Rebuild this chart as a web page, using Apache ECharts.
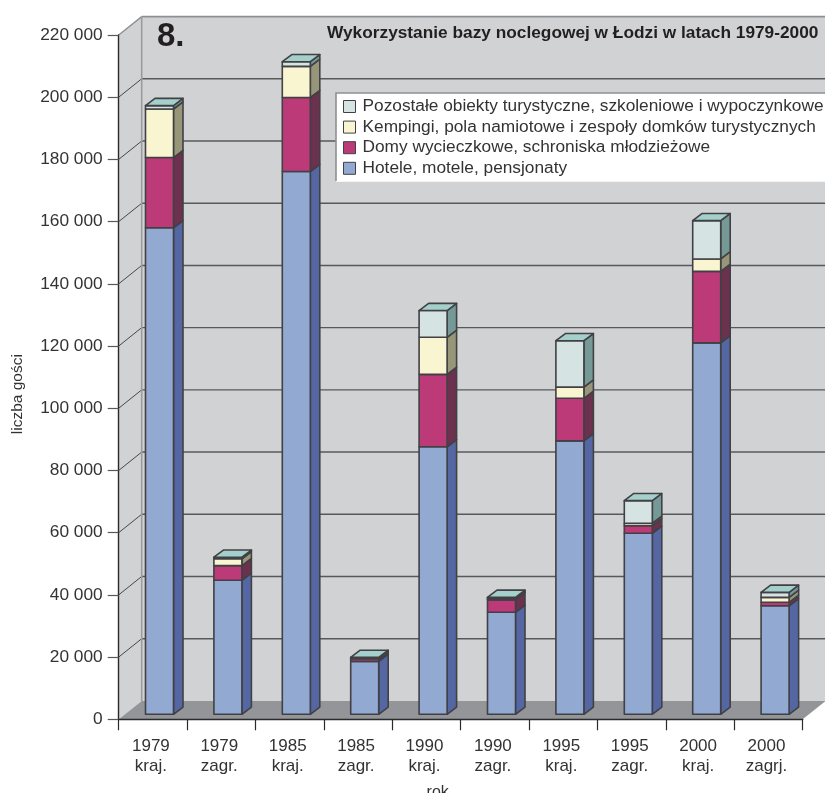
<!DOCTYPE html>
<html>
<head>
<meta charset="utf-8">
<style>html,body{margin:0;padding:0;background:#fff;overflow:hidden}#c{width:825px;height:793px}</style>
<script src="https://cdn.jsdelivr.net/npm/echarts@6/dist/echarts.min.js"></script>
</head>
<body>
<div id="c"></div>
<script>
const categories = ['1979\nkraj.','1979\nzagr.','1985\nkraj.','1985\nzagr.','1990\nkraj.','1990\nzagr.','1995\nkraj.','1995\nzagr.','2000\nkraj.','2000\nzagrj.'];
const hotele    = [156400, 43100, 174500, 17000, 86000, 32800, 87900, 58200, 119400, 34900];
const domy      = [ 22600,  4700,  23800,   900, 23300,  4000, 13700,  2450,  23000,  1100];
const kempingi  = [ 15600,  2200,  10000,   200, 11900,   300,  3600,   770,   4000,  1600];
const pozostale = [  1100,   500,   1500,   200,  8600,   500, 14900,  7270,  12300,  1600];
const valueTicks = [0,20000,40000,60000,80000,100000,120000,140000,160000,180000,200000,220000];

const names = {
  hotele: 'Hotele, motele, pensjonaty',
  domy: 'Domy wycieczkowe, schroniska młodzieżowe',
  kempingi: 'Kempingi, pola namiotowe i zespoły domków turystycznych',
  pozostale: 'Pozostałe obiekty turystyczne, szkoleniowe i wypoczynkowe'
};

const FONT = '"Liberation Sans", Arial, sans-serif';
const TXT = '#333335', EDGE = '#414145';
const WALL_DX = 23, WALL_DY = -18.4;
const BAR_DX = 6.6, BAR_DY = -5;
const DEPTH_X = 9.5, DEPTH_Y = -7.2;
const BAR_W = 28;

function wallItem(params, api) {
  const cs = params.coordSys;
  const L = cs.x, R = cs.x + cs.width, T = cs.y, B = cs.y + cs.height;
  const kids = [];
  const poly = (pts, fill) => kids.push({type:'polygon', shape:{points:pts}, style:{fill:fill, stroke:'none'}});
  const line = (a, b, c, w) => kids.push({type:'line', shape:{x1:a[0],y1:a[1],x2:b[0],y2:b[1]}, style:{stroke:c, lineWidth:w}});
  const bx = WALL_DX, by = WALL_DY;
  poly([[L+bx,T+by],[R+bx,T+by],[R+bx,B+by],[L+bx,B+by]], '#d1d2d4');
  poly([[L,T],[L+bx,T+by],[L+bx,B+by],[L,B]], '#d1d2d4');
  poly([[L,B],[L+bx,B+by],[R+bx,B+by],[R,B]], '#939598');
  valueTicks.slice(1, -1).forEach(v => {
    const y = api.coord([0, v])[1];
    line([L,y],[L+bx,y+by],'#47474a',1);
    line([L+bx,y+by],[R+bx,y+by],'#58585b',1.4);
  });
  line([L,T],[L+bx,T+by],'#8f9093',1.4);
  line([L+bx,T+by],[R+bx,T+by],'#8f9093',1.6);
  line([L+bx,T+by],[L+bx,B+by],'#9a9b9e',1.6);
  return {type:'group', children:kids};
}

function barSeries(name, bases, values, front, side, top) {
  const data = values.map((v, i) => [i, bases[i], bases[i] + v]);
  return {
    name, type:'custom', z:3, silent:true,
    itemStyle:{color:front},
    encode:{x:0, y:[1,2]},
    data,
    renderItem(params, api) {
      const a = api.coord([api.value(0), api.value(1)]);
      const b = api.coord([api.value(0), api.value(2)]);
      const x0 = a[0] + BAR_DX - BAR_W/2, x1 = x0 + BAR_W;
      const y0 = a[1] + BAR_DY, y1 = b[1] + BAR_DY;
      const st = fill => ({fill, stroke:EDGE, lineWidth:1.6, lineJoin:'round'});
      const kids = [
        {type:'polygon', shape:{points:[[x1,y0],[x1+DEPTH_X,y0+DEPTH_Y],[x1+DEPTH_X,y1+DEPTH_Y],[x1,y1]]}, style:st(side)},
        {type:'polygon', shape:{points:[[x0,y0],[x1,y0],[x1,y1],[x0,y1]]}, style:st(front)}
      ];
      if (top) kids.push({type:'polygon', shape:{points:[[x0,y1],[x1,y1],[x1+DEPTH_X,y1+DEPTH_Y],[x0+DEPTH_X,y1+DEPTH_Y]]}, style:st(top)});
      return {type:'group', children:kids};
    }
  };
}

const base2 = hotele.map((v,i) => v + domy[i]);
const base3 = base2.map((v,i) => v + kempingi[i]);
const base0 = hotele.map(() => 0);

const chart = echarts.init(document.getElementById('c'), null, {renderer:'canvas'});
chart.setOption({
  animation:false,
  backgroundColor:'#ffffff',
  textStyle:{fontFamily:FONT},
  title:[
    {text:'8.', left:157, top:20, padding:0, textStyle:{fontFamily:FONT,fontSize:33,fontWeight:'bold',color:'#231f20'}},
    {text:'Wykorzystanie bazy noclegowej w Łodzi w latach 1979-2000', left:327, top:25, padding:0, textStyle:{fontFamily:FONT,fontSize:17.3,fontWeight:'bold',color:'#231f20'}}
  ],
  graphic:[
    {type:'polyline', z:20, silent:true, shape:{points:[[336,181],[336,93],[826,93]]}, style:{stroke:'#8f9093', lineWidth:1.6, fill:'none'}}
  ],
  legend:{
    orient:'vertical', left:336, top:93, padding:[5,40,5,7], itemGap:3.6, itemWidth:12, itemHeight:12,
    icon:'rect', selectedMode:false, backgroundColor:'#ffffff', borderWidth:0,
    itemStyle:{borderColor:'#414145', borderWidth:1},
    textStyle:{fontFamily:FONT, fontSize:17.3, color:TXT, lineHeight:17, padding:[0,0,0,2]},
    data:[names.pozostale, names.kempingi, names.domy, names.hotele]
  },
  grid:{left:118.7, right:22.3, top:35, bottom:73.7, containLabel:false, outerBoundsMode:'none'},
  xAxis:{
    type:'category', data:categories, z:5,
    name:'rok', nameLocation:'middle', nameGap:65,
    nameTextStyle:{fontFamily:FONT,fontSize:16,color:TXT,padding:[0,46,0,0]},
    axisLine:{lineStyle:{color:'#2a2a2c',width:1.4}},
    axisTick:{show:true, length:11, lineStyle:{color:'#2a2a2c',width:1.2}},
    axisLabel:{interval:0, margin:17.5, fontFamily:FONT, fontSize:17, lineHeight:20, color:TXT, padding:[0,4,0,0]},
    splitLine:{show:false}
  },
  yAxis:{
    type:'value', min:0, max:220000, interval:20000, z:5,
    name:'liczba gości', nameLocation:'middle', nameRotate:90, nameGap:93,
    nameTextStyle:{fontFamily:FONT,fontSize:15.5,color:TXT,padding:[0,34,0,0]},
    axisLine:{show:true, lineStyle:{color:'#2a2a2c',width:1.4}},
    axisTick:{show:true, length:11, lineStyle:{color:'#58585b',width:1.2}},
    axisLabel:{margin:16, fontFamily:FONT, fontSize:17.3, color:TXT,
      formatter:v => String(v).replace(/\B(?=(\d{3})+$)/g,' ')},
    splitLine:{show:false}
  },
  series:[
    {type:'custom', z:1, silent:true, data:[[0,0]], encode:{x:0,y:1}, renderItem:wallItem},
    barSeries(names.hotele, base0, hotele, '#92a9d2', '#5567a3'),
    barSeries(names.domy, hotele, domy, '#bd3a78', '#6b314f'),
    barSeries(names.kempingi, base2, kempingi, '#f9f5d0', '#979679'),
    barSeries(names.pozostale, base3, pozostale, '#d6e3e3', '#749997', '#a5cfcb')
  ]
});
</script>
</body>
</html>
